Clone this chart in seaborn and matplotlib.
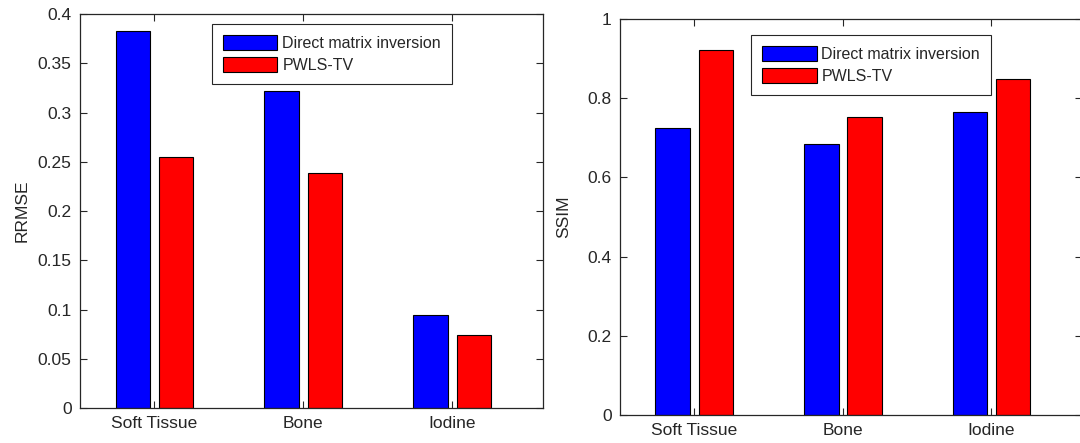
import pandas as pd
import numpy as np
import matplotlib
matplotlib.use('Agg')
import matplotlib.pyplot as plt
from matplotlib.ticker import FuncFormatter
import seaborn as sns

tissues = ['Soft Tissue', 'Bone', 'Iodine']
methods = ['Direct matrix inversion', 'PWLS-TV']

rrmse_direct = [0.383, 0.322, 0.094]
rrmse_pwls = [0.255, 0.239, 0.074]
ssim_direct = [0.726, 0.684, 0.764]
ssim_pwls = [0.922, 0.752, 0.848]

rrmse_df = pd.DataFrame({
    'tissue': tissues * 2,
    'method': [methods[0]] * 3 + [methods[1]] * 3,
    'value': rrmse_direct + rrmse_pwls,
})
ssim_df = pd.DataFrame({
    'tissue': tissues * 2,
    'method': [methods[0]] * 3 + [methods[1]] * 3,
    'value': ssim_direct + ssim_pwls,
})

sns.set_theme(style='white')
plt.rcParams['font.family'] = ['Liberation Sans', 'DejaVu Sans']

dark = '#262626'
fig = plt.figure(figsize=(10.8, 4.43), dpi=100)
ax1 = fig.add_axes([0.0741, 0.079, 0.4287, 0.889])
ax2 = fig.add_axes([0.574, 0.0632, 0.428, 0.8938])

palette = {methods[0]: '#0000ff', methods[1]: '#ff0000'}


def fmt(v, pos):
    return ('%g' % round(v, 4))


for ax, df, ylab, ylim, step, anchor, lpad in [
    (ax1, rrmse_df, 'RRMSE', 0.4, 0.05, (0.285, 0.975), 6),
    (ax2, ssim_df, 'SSIM', 1.0, 0.2, (0.284, 0.96), 12),
]:
    sns.barplot(data=df, x='tissue', y='value', hue='method', palette=palette,
                width=0.58, gap=0.2, saturation=1, edgecolor='black',
                linewidth=0.8, ax=ax, errorbar=None)
    ax.set_xlim(-0.5, 2.61)
    ax.set_ylim(0, ylim)
    ax.set_yticks(np.arange(0, ylim + step / 2, step))
    ax.yaxis.set_major_formatter(FuncFormatter(fmt))
    ax.set_xlabel('')
    ax.set_ylabel(ylab, fontsize=12.5, color=dark, labelpad=lpad)
    ax.tick_params(direction='in', length=5, width=0.8, colors=dark,
                   labelsize=12.5, top=True, right=True, left=True, bottom=True,
                   labelcolor=dark, pad=6)
    for s in ax.spines.values():
        s.set_visible(True)
        s.set_color(dark)
        s.set_linewidth(0.9)
    handles, labels = ax.get_legend_handles_labels()
    ax.legend(handles, labels, loc='upper left', bbox_to_anchor=anchor,
              borderaxespad=0, fontsize=11.5, frameon=True, fancybox=False,
              framealpha=1, edgecolor=dark, handlelength=3.4,
              handleheight=1.05, handletextpad=0.3, labelspacing=0.4,
              borderpad=0.7)
    ax.get_legend().get_frame().set_linewidth(0.8)

fig.savefig('out.png', dpi=100, facecolor='white')
